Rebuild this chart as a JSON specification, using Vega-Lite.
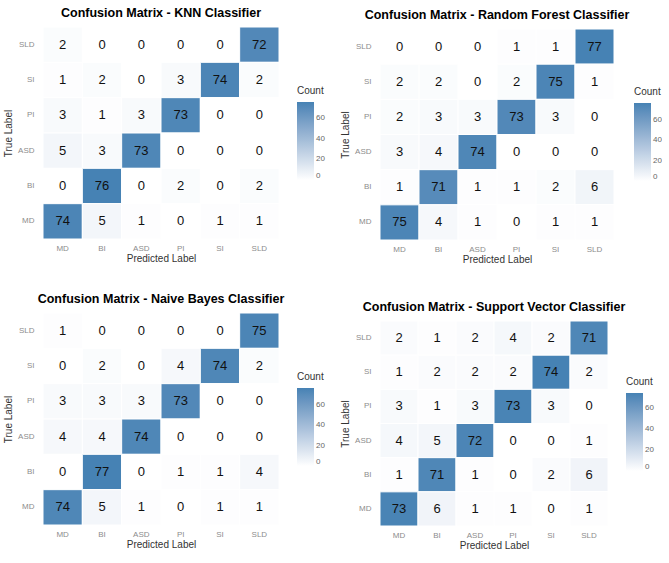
{
  "$schema": "https://vega.github.io/schema/vega-lite/v6.json",
  "padding": {"left": 3, "top": 7, "right": 0, "bottom": 0},
  "background": "white",
  "datasets": {
    "cm": [
      {"model": "KNN", "actual": "SLD", "predicted": "MD", "count": 2},
      {"model": "KNN", "actual": "SLD", "predicted": "BI", "count": 0},
      {"model": "KNN", "actual": "SLD", "predicted": "ASD", "count": 0},
      {"model": "KNN", "actual": "SLD", "predicted": "PI", "count": 0},
      {"model": "KNN", "actual": "SLD", "predicted": "SI", "count": 0},
      {"model": "KNN", "actual": "SLD", "predicted": "SLD", "count": 72},
      {"model": "KNN", "actual": "SI", "predicted": "MD", "count": 1},
      {"model": "KNN", "actual": "SI", "predicted": "BI", "count": 2},
      {"model": "KNN", "actual": "SI", "predicted": "ASD", "count": 0},
      {"model": "KNN", "actual": "SI", "predicted": "PI", "count": 3},
      {"model": "KNN", "actual": "SI", "predicted": "SI", "count": 74},
      {"model": "KNN", "actual": "SI", "predicted": "SLD", "count": 2},
      {"model": "KNN", "actual": "PI", "predicted": "MD", "count": 3},
      {"model": "KNN", "actual": "PI", "predicted": "BI", "count": 1},
      {"model": "KNN", "actual": "PI", "predicted": "ASD", "count": 3},
      {"model": "KNN", "actual": "PI", "predicted": "PI", "count": 73},
      {"model": "KNN", "actual": "PI", "predicted": "SI", "count": 0},
      {"model": "KNN", "actual": "PI", "predicted": "SLD", "count": 0},
      {"model": "KNN", "actual": "ASD", "predicted": "MD", "count": 5},
      {"model": "KNN", "actual": "ASD", "predicted": "BI", "count": 3},
      {"model": "KNN", "actual": "ASD", "predicted": "ASD", "count": 73},
      {"model": "KNN", "actual": "ASD", "predicted": "PI", "count": 0},
      {"model": "KNN", "actual": "ASD", "predicted": "SI", "count": 0},
      {"model": "KNN", "actual": "ASD", "predicted": "SLD", "count": 0},
      {"model": "KNN", "actual": "BI", "predicted": "MD", "count": 0},
      {"model": "KNN", "actual": "BI", "predicted": "BI", "count": 76},
      {"model": "KNN", "actual": "BI", "predicted": "ASD", "count": 0},
      {"model": "KNN", "actual": "BI", "predicted": "PI", "count": 2},
      {"model": "KNN", "actual": "BI", "predicted": "SI", "count": 0},
      {"model": "KNN", "actual": "BI", "predicted": "SLD", "count": 2},
      {"model": "KNN", "actual": "MD", "predicted": "MD", "count": 74},
      {"model": "KNN", "actual": "MD", "predicted": "BI", "count": 5},
      {"model": "KNN", "actual": "MD", "predicted": "ASD", "count": 1},
      {"model": "KNN", "actual": "MD", "predicted": "PI", "count": 0},
      {"model": "KNN", "actual": "MD", "predicted": "SI", "count": 1},
      {"model": "KNN", "actual": "MD", "predicted": "SLD", "count": 1},

      {"model": "RF", "actual": "SLD", "predicted": "MD", "count": 0},
      {"model": "RF", "actual": "SLD", "predicted": "BI", "count": 0},
      {"model": "RF", "actual": "SLD", "predicted": "ASD", "count": 0},
      {"model": "RF", "actual": "SLD", "predicted": "PI", "count": 1},
      {"model": "RF", "actual": "SLD", "predicted": "SI", "count": 1},
      {"model": "RF", "actual": "SLD", "predicted": "SLD", "count": 77},
      {"model": "RF", "actual": "SI", "predicted": "MD", "count": 2},
      {"model": "RF", "actual": "SI", "predicted": "BI", "count": 2},
      {"model": "RF", "actual": "SI", "predicted": "ASD", "count": 0},
      {"model": "RF", "actual": "SI", "predicted": "PI", "count": 2},
      {"model": "RF", "actual": "SI", "predicted": "SI", "count": 75},
      {"model": "RF", "actual": "SI", "predicted": "SLD", "count": 1},
      {"model": "RF", "actual": "PI", "predicted": "MD", "count": 2},
      {"model": "RF", "actual": "PI", "predicted": "BI", "count": 3},
      {"model": "RF", "actual": "PI", "predicted": "ASD", "count": 3},
      {"model": "RF", "actual": "PI", "predicted": "PI", "count": 73},
      {"model": "RF", "actual": "PI", "predicted": "SI", "count": 3},
      {"model": "RF", "actual": "PI", "predicted": "SLD", "count": 0},
      {"model": "RF", "actual": "ASD", "predicted": "MD", "count": 3},
      {"model": "RF", "actual": "ASD", "predicted": "BI", "count": 4},
      {"model": "RF", "actual": "ASD", "predicted": "ASD", "count": 74},
      {"model": "RF", "actual": "ASD", "predicted": "PI", "count": 0},
      {"model": "RF", "actual": "ASD", "predicted": "SI", "count": 0},
      {"model": "RF", "actual": "ASD", "predicted": "SLD", "count": 0},
      {"model": "RF", "actual": "BI", "predicted": "MD", "count": 1},
      {"model": "RF", "actual": "BI", "predicted": "BI", "count": 71},
      {"model": "RF", "actual": "BI", "predicted": "ASD", "count": 1},
      {"model": "RF", "actual": "BI", "predicted": "PI", "count": 1},
      {"model": "RF", "actual": "BI", "predicted": "SI", "count": 2},
      {"model": "RF", "actual": "BI", "predicted": "SLD", "count": 6},
      {"model": "RF", "actual": "MD", "predicted": "MD", "count": 75},
      {"model": "RF", "actual": "MD", "predicted": "BI", "count": 4},
      {"model": "RF", "actual": "MD", "predicted": "ASD", "count": 1},
      {"model": "RF", "actual": "MD", "predicted": "PI", "count": 0},
      {"model": "RF", "actual": "MD", "predicted": "SI", "count": 1},
      {"model": "RF", "actual": "MD", "predicted": "SLD", "count": 1},

      {"model": "NB", "actual": "SLD", "predicted": "MD", "count": 1},
      {"model": "NB", "actual": "SLD", "predicted": "BI", "count": 0},
      {"model": "NB", "actual": "SLD", "predicted": "ASD", "count": 0},
      {"model": "NB", "actual": "SLD", "predicted": "PI", "count": 0},
      {"model": "NB", "actual": "SLD", "predicted": "SI", "count": 0},
      {"model": "NB", "actual": "SLD", "predicted": "SLD", "count": 75},
      {"model": "NB", "actual": "SI", "predicted": "MD", "count": 0},
      {"model": "NB", "actual": "SI", "predicted": "BI", "count": 2},
      {"model": "NB", "actual": "SI", "predicted": "ASD", "count": 0},
      {"model": "NB", "actual": "SI", "predicted": "PI", "count": 4},
      {"model": "NB", "actual": "SI", "predicted": "SI", "count": 74},
      {"model": "NB", "actual": "SI", "predicted": "SLD", "count": 2},
      {"model": "NB", "actual": "PI", "predicted": "MD", "count": 3},
      {"model": "NB", "actual": "PI", "predicted": "BI", "count": 3},
      {"model": "NB", "actual": "PI", "predicted": "ASD", "count": 3},
      {"model": "NB", "actual": "PI", "predicted": "PI", "count": 73},
      {"model": "NB", "actual": "PI", "predicted": "SI", "count": 0},
      {"model": "NB", "actual": "PI", "predicted": "SLD", "count": 0},
      {"model": "NB", "actual": "ASD", "predicted": "MD", "count": 4},
      {"model": "NB", "actual": "ASD", "predicted": "BI", "count": 4},
      {"model": "NB", "actual": "ASD", "predicted": "ASD", "count": 74},
      {"model": "NB", "actual": "ASD", "predicted": "PI", "count": 0},
      {"model": "NB", "actual": "ASD", "predicted": "SI", "count": 0},
      {"model": "NB", "actual": "ASD", "predicted": "SLD", "count": 0},
      {"model": "NB", "actual": "BI", "predicted": "MD", "count": 0},
      {"model": "NB", "actual": "BI", "predicted": "BI", "count": 77},
      {"model": "NB", "actual": "BI", "predicted": "ASD", "count": 0},
      {"model": "NB", "actual": "BI", "predicted": "PI", "count": 1},
      {"model": "NB", "actual": "BI", "predicted": "SI", "count": 1},
      {"model": "NB", "actual": "BI", "predicted": "SLD", "count": 4},
      {"model": "NB", "actual": "MD", "predicted": "MD", "count": 74},
      {"model": "NB", "actual": "MD", "predicted": "BI", "count": 5},
      {"model": "NB", "actual": "MD", "predicted": "ASD", "count": 1},
      {"model": "NB", "actual": "MD", "predicted": "PI", "count": 0},
      {"model": "NB", "actual": "MD", "predicted": "SI", "count": 1},
      {"model": "NB", "actual": "MD", "predicted": "SLD", "count": 1},

      {"model": "SVC", "actual": "SLD", "predicted": "MD", "count": 2},
      {"model": "SVC", "actual": "SLD", "predicted": "BI", "count": 1},
      {"model": "SVC", "actual": "SLD", "predicted": "ASD", "count": 2},
      {"model": "SVC", "actual": "SLD", "predicted": "PI", "count": 4},
      {"model": "SVC", "actual": "SLD", "predicted": "SI", "count": 2},
      {"model": "SVC", "actual": "SLD", "predicted": "SLD", "count": 71},
      {"model": "SVC", "actual": "SI", "predicted": "MD", "count": 1},
      {"model": "SVC", "actual": "SI", "predicted": "BI", "count": 2},
      {"model": "SVC", "actual": "SI", "predicted": "ASD", "count": 2},
      {"model": "SVC", "actual": "SI", "predicted": "PI", "count": 2},
      {"model": "SVC", "actual": "SI", "predicted": "SI", "count": 74},
      {"model": "SVC", "actual": "SI", "predicted": "SLD", "count": 2},
      {"model": "SVC", "actual": "PI", "predicted": "MD", "count": 3},
      {"model": "SVC", "actual": "PI", "predicted": "BI", "count": 1},
      {"model": "SVC", "actual": "PI", "predicted": "ASD", "count": 3},
      {"model": "SVC", "actual": "PI", "predicted": "PI", "count": 73},
      {"model": "SVC", "actual": "PI", "predicted": "SI", "count": 3},
      {"model": "SVC", "actual": "PI", "predicted": "SLD", "count": 0},
      {"model": "SVC", "actual": "ASD", "predicted": "MD", "count": 4},
      {"model": "SVC", "actual": "ASD", "predicted": "BI", "count": 5},
      {"model": "SVC", "actual": "ASD", "predicted": "ASD", "count": 72},
      {"model": "SVC", "actual": "ASD", "predicted": "PI", "count": 0},
      {"model": "SVC", "actual": "ASD", "predicted": "SI", "count": 0},
      {"model": "SVC", "actual": "ASD", "predicted": "SLD", "count": 1},
      {"model": "SVC", "actual": "BI", "predicted": "MD", "count": 1},
      {"model": "SVC", "actual": "BI", "predicted": "BI", "count": 71},
      {"model": "SVC", "actual": "BI", "predicted": "ASD", "count": 1},
      {"model": "SVC", "actual": "BI", "predicted": "PI", "count": 0},
      {"model": "SVC", "actual": "BI", "predicted": "SI", "count": 2},
      {"model": "SVC", "actual": "BI", "predicted": "SLD", "count": 6},
      {"model": "SVC", "actual": "MD", "predicted": "MD", "count": 73},
      {"model": "SVC", "actual": "MD", "predicted": "BI", "count": 6},
      {"model": "SVC", "actual": "MD", "predicted": "ASD", "count": 1},
      {"model": "SVC", "actual": "MD", "predicted": "PI", "count": 1},
      {"model": "SVC", "actual": "MD", "predicted": "SI", "count": 0},
      {"model": "SVC", "actual": "MD", "predicted": "SLD", "count": 1}
    ]
  },
  "vconcat": [
    {
      "resolve": {"scale": {"color": "independent"}},
      "hconcat": [
        {
          "width": 236, "height": 212,
          "data": {"name": "cm"},
          "transform": [{"filter": "datum.model === 'KNN'"}],
          "title": {"text": "Confusion Matrix - KNN Classifier"},
          "encoding": {
            "x": {"field": "predicted", "type": "nominal", "sort": ["MD", "BI", "ASD", "PI", "SI", "SLD"], "title": "Predicted Label", "scale": {"paddingInner": 0, "paddingOuter": 0}},
            "y": {"field": "actual", "type": "nominal", "sort": ["SLD", "SI", "PI", "ASD", "BI", "MD"], "title": "True Label", "scale": {"paddingInner": 0, "paddingOuter": 0}}
          },
          "layer": [
            {"mark": {"type": "rect", "stroke": "white", "strokeWidth": 1},
             "encoding": {"color": {"field": "count", "type": "quantitative", "title": "Count",
               "scale": {"range": ["#ffffff", "steelblue"], "interpolate": "lab", "zero": true, "nice": false},
               "legend": {"orient": "none", "legendX": 254, "legendY": 59, "values": [0, 20, 40, 60]}}}},
            {"mark": {"type": "text"}, "encoding": {"text": {"field": "count", "type": "quantitative"}}}
          ]
        },
        {
          "width": 234, "height": 213,
          "data": {"name": "cm"},
          "transform": [{"filter": "datum.model === 'RF'"}],
          "title": {"text": "Confusion Matrix - Random Forest Classifier", "dy": 1},
          "encoding": {
            "x": {"field": "predicted", "type": "nominal", "sort": ["MD", "BI", "ASD", "PI", "SI", "SLD"], "title": "Predicted Label", "scale": {"paddingInner": 0, "paddingOuter": 0}},
            "y": {"field": "actual", "type": "nominal", "sort": ["SLD", "SI", "PI", "ASD", "BI", "MD"], "title": "True Label", "scale": {"paddingInner": 0, "paddingOuter": 0, "range": [2, 213]}}
          },
          "layer": [
            {"mark": {"type": "rect", "stroke": "white", "strokeWidth": 1},
             "encoding": {"color": {"field": "count", "type": "quantitative", "title": "Count",
               "scale": {"range": ["#ffffff", "steelblue"], "interpolate": "lab", "zero": true, "nice": false},
               "legend": {"orient": "none", "legendX": 254, "legendY": 60, "values": [0, 20, 40, 60]}}}},
            {"mark": {"type": "text"}, "encoding": {"text": {"field": "count", "type": "quantitative"}}}
          ]
        }
      ]
    },
    {
      "resolve": {"scale": {"color": "independent"}},
      "hconcat": [
        {
          "width": 236, "height": 212,
          "data": {"name": "cm"},
          "transform": [{"filter": "datum.model === 'NB'"}],
          "title": {"text": "Confusion Matrix - Naive Bayes Classifier"},
          "encoding": {
            "x": {"field": "predicted", "type": "nominal", "sort": ["MD", "BI", "ASD", "PI", "SI", "SLD"], "title": "Predicted Label", "scale": {"paddingInner": 0, "paddingOuter": 0}},
            "y": {"field": "actual", "type": "nominal", "sort": ["SLD", "SI", "PI", "ASD", "BI", "MD"], "title": "True Label", "scale": {"paddingInner": 0, "paddingOuter": 0}}
          },
          "layer": [
            {"mark": {"type": "rect", "stroke": "white", "strokeWidth": 1},
             "encoding": {"color": {"field": "count", "type": "quantitative", "title": "Count",
               "scale": {"range": ["#ffffff", "steelblue"], "interpolate": "lab", "zero": true, "nice": false},
               "legend": {"orient": "none", "legendX": 254, "legendY": 59, "values": [0, 20, 40, 60]}}}},
            {"mark": {"type": "text"}, "encoding": {"text": {"field": "count", "type": "quantitative"}}}
          ]
        },
        {
          "width": 228, "height": 213,
          "data": {"name": "cm"},
          "transform": [{"filter": "datum.model === 'SVC'"}],
          "title": {"text": "Confusion Matrix - Support Vector Classifier", "dy": 7},
          "encoding": {
            "x": {"field": "predicted", "type": "nominal", "sort": ["MD", "BI", "ASD", "PI", "SI", "SLD"], "title": "Predicted Label", "scale": {"paddingInner": 0, "paddingOuter": 0}},
            "y": {"field": "actual", "type": "nominal", "sort": ["SLD", "SI", "PI", "ASD", "BI", "MD"], "title": "True Label", "scale": {"paddingInner": 0, "paddingOuter": 0, "range": [8, 213]}}
          },
          "layer": [
            {"mark": {"type": "rect", "stroke": "white", "strokeWidth": 1},
             "encoding": {"color": {"field": "count", "type": "quantitative", "title": "Count",
               "scale": {"range": ["#ffffff", "steelblue"], "interpolate": "lab", "zero": true, "nice": false},
               "legend": {"orient": "none", "legendX": 246, "legendY": 64, "values": [0, 20, 40, 60]}}}},
            {"mark": {"type": "text"}, "encoding": {"text": {"field": "count", "type": "quantitative"}}}
          ]
        }
      ]
    }
  ],
  "spacing": 29,
  "resolve": {"scale": {"color": "independent"}},
  "config": {
    "view": {"stroke": null},
    "concat": {"spacing": 15},
    "font": "Liberation Sans",
    "title": {"font": "Liberation Sans", "fontSize": 12.5, "fontWeight": "bold", "color": "#000000", "anchor": "middle", "frame": "group", "offset": 7},
    "axis": {"domain": false, "ticks": false, "grid": false, "labelAngle": 0, "labelColor": "#8c8c8c", "labelFontSize": 8, "labelPadding": 8, "titleColor": "#333333", "titleFontSize": 10, "titleFontWeight": "normal", "titlePadding": 4, "labelFont": "Liberation Sans", "titleFont": "Liberation Sans"},
    "axisX": {"labelPadding": 5, "titlePadding": 1},
    "axisY": {"labelPadding": 9},
    "legend": {"gradientLength": 78, "gradientThickness": 17, "gradientStrokeWidth": 0, "labelColor": "#666666", "labelFontSize": 8, "labelOffset": 6, "titleFontSize": 10, "titleFontWeight": "normal", "titleColor": "#333333", "titlePadding": 6, "labelFont": "Liberation Sans", "titleFont": "Liberation Sans"},
    "text": {"font": "Liberation Sans", "fontSize": 13, "color": "#111111"}
  }
}
